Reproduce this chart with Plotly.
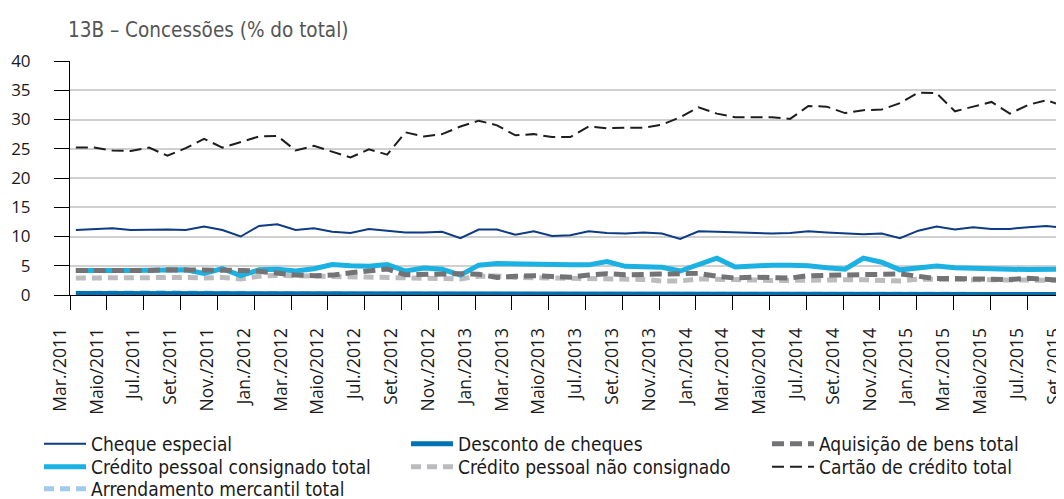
import plotly.graph_objects as go

tick_labels = ["Mar./2011", "Maio/2011", "Jul./2011", "Set./2011", "Nov./2011",
               "Jan./2012", "Mar./2012", "Maio/2012", "Jul./2012", "Set./2012", "Nov./2012",
               "Jan./2013", "Mar./2013", "Maio/2013", "Jul./2013", "Set./2013", "Nov./2013",
               "Jan./2014", "Mar./2014", "Maio/2014", "Jul./2014", "Set./2014", "Nov./2014",
               "Jan./2015", "Mar./2015", "Maio/2015", "Jul./2015", "Set./2015"]

cheque_especial = [11.1, 11.2, 11.4, 11.1, 11.2, 11.2, 11.1, 11.7, 11.1, 10.0,
                   11.8, 12.1, 11.1, 11.4, 10.8, 10.6, 11.3, 11.0, 10.7, 10.7,
                   10.8, 9.7, 11.2, 11.2, 10.3, 10.9, 10.1, 10.2, 10.9, 10.6,
                   10.5, 10.7, 10.5, 9.6, 10.9, 10.8, 10.7, 10.6, 10.5, 10.6,
                   10.9, 10.7, 10.5, 10.4, 10.5, 9.7, 11.0, 11.7, 11.2, 11.6,
                   11.3, 11.3, 11.6, 11.8, 11.5]

desconto_cheques = [0.25, 0.25, 0.3, 0.3, 0.3, 0.25, 0.25, 0.25, 0.25, 0.2,
                    0.2, 0.2, 0.2, 0.2, 0.2, 0.2, 0.2, 0.2, 0.2, 0.2,
                    0.2, 0.2, 0.2, 0.2, 0.2, 0.2, 0.2, 0.2, 0.2, 0.2,
                    0.2, 0.2, 0.2, 0.2, 0.2, 0.2, 0.2, 0.2, 0.2, 0.2,
                    0.2, 0.2, 0.2, 0.15, 0.15, 0.15, 0.15, 0.15, 0.15, 0.15,
                    0.15, 0.15, 0.1, 0.1, 0.1]

aquisicao_bens = [4.2, 4.2, 4.2, 4.05, 4.2, 4.3, 4.3, 4.2, 4.3, 4.2,
                  4.05, 3.65, 3.4, 3.3, 3.4, 3.8, 4.1, 4.45, 3.45, 3.55,
                  3.6, 3.65, 3.55, 3.0, 3.2, 3.3, 3.15, 3.05, 3.4, 3.65,
                  3.45, 3.5, 3.5, 3.65, 3.7, 3.2, 2.9, 3.05, 3.05, 2.9,
                  3.3, 3.35, 3.35, 3.4, 3.4, 3.6, 3.2, 2.8, 2.8, 2.75,
                  2.65, 2.65, 2.85, 2.7, 2.5]

consignado = [4.2, 4.1, 4.2, 4.2, 4.2, 4.3, 4.3, 3.7, 4.5, 3.3,
              4.3, 4.4, 4.1, 4.5, 5.2, 5.0, 4.9, 5.2, 4.1, 4.6,
              4.4, 3.4, 5.1, 5.4, 5.3, 5.4, 5.2, 5.15, 5.15, 5.7,
              4.9, 4.9, 4.75, 4.1, 5.2, 6.3, 4.8, 5.0, 5.1, 5.1,
              5.0, 4.65, 4.4, 6.3, 5.6, 4.3, 4.65, 4.95, 4.65, 4.5,
              4.45, 4.4, 4.35, 4.4, 4.4]

nao_consignado = [2.9, 2.95, 3.0, 3.05, 3.05, 3.0, 3.0, 2.9, 3.0, 2.75,
                  3.2, 3.35, 3.3, 3.2, 3.25, 3.1, 3.0, 3.1, 2.9, 3.0,
                  3.0, 2.75, 3.2, 3.25, 3.0, 2.95, 2.9, 2.8, 2.9, 2.75,
                  2.75, 2.65, 2.4, 2.4, 2.75, 2.65, 2.5, 2.6, 2.5, 2.5,
                  2.6, 2.6, 2.6, 2.6, 2.5, 2.4, 2.7, 2.7, 2.7, 2.7,
                  2.6, 2.6, 2.7, 2.6, 2.5]

cartao_credito = [25.2, 25.2, 24.7, 24.6, 25.2, 23.8, 25.1, 26.7, 25.2, 26.1,
                  27.1, 27.2, 24.7, 25.5, 24.5, 23.5, 24.9, 24.0, 27.8, 27.1,
                  27.5, 28.8, 29.8, 29.0, 27.3, 27.5, 27.0, 27.0, 28.8, 28.5,
                  28.6, 28.6, 29.1, 30.4, 32.1, 31.0, 30.4, 30.4, 30.4, 30.1,
                  32.3, 32.2, 31.1, 31.6, 31.7, 32.8, 34.6, 34.5, 31.4, 32.2,
                  33.0, 31.0, 32.5, 33.3, 32.2]

arrendamento = [0.3, 0.35, 0.45, 0.5, 0.45, 0.4, 0.35, 0.3, 0.3, 0.25,
                0.25, 0.2, 0.2, 0.2, 0.2, 0.15, 0.15, 0.15, 0.15, 0.15,
                0.15, 0.15, 0.15, 0.15, 0.15, 0.15, 0.15, 0.15, 0.15, 0.15,
                0.15, 0.15, 0.15, 0.15, 0.15, 0.15, 0.15, 0.15, 0.15, 0.15,
                0.1, 0.1, 0.1, 0.1, 0.1, 0.1, 0.1, 0.1, 0.1, 0.1,
                0.1, 0.1, 0.1, 0.1, 0.1]

x = list(range(len(cheque_especial)))

# name, values, color, width, dash, legend id, legend x (px), legend top (px)
series = [
    ("Cheque especial", cheque_especial, "#0d3b84", 2, "solid", "legend", 31, 417),
    ("Desconto de cheques", desconto_cheques, "#0071b3", 5, "solid", "legend2", 398, 417),
    ("Aquisição de bens total", aquisicao_bens, "#737376", 5, "12px,6px", "legend3", 759, 417),
    ("Crédito pessoal consignado total", consignado, "#1bb1e2", 5, "solid", "legend4", 31, 440),
    ("Crédito pessoal não consignado", nao_consignado, "#bcbcbf", 5, "10px,6px", "legend5", 398, 440),
    ("Cartão de crédito total", cartao_credito, "#1e1e1e", 2, "12px,6px", "legend6", 759, 440),
    ("Arrendamento mercantil total", arrendamento, "#a3caec", 5, "10px,6px", "legend7", 31, 462),
]

fig = go.Figure()
for name, vals, color, w, dash, leg, lx, ly in reversed(series):
    fig.add_trace(go.Scatter(
        x=x, y=vals, name=name, mode="lines",
        line=dict(color=color, width=w, dash=dash),
        legend=leg, showlegend=True,
    ))

n_ticks = len(tick_labels)
tickvals = [2 * k * 1.0049 - 0.311 for k in range(n_ticks)]

legend_font = dict(family="DejaVu Sans Condensed", size=19, color="#1a1a1a")
legends = {}
for name, vals, color, w, dash, leg, lx, ly in series:
    legends[leg] = dict(xref="container", yref="container", xanchor="left", yanchor="top",
                        x=lx / 1064, y=1 - ly / 499, font=legend_font,
                        bgcolor="rgba(0,0,0,0)", itemwidth=42, orientation="v")

fig.update_layout(
    width=1064, height=499,
    showlegend=True,
    margin=dict(l=62, r=3, t=53, b=212, autoexpand=False),
    paper_bgcolor="white", plot_bgcolor="white",
    title=dict(text="13B – Concessões (% do total)", xref="container", x=60 / 1064,
               xanchor="left", y=1 - 22 / 499, yanchor="middle",
               font=dict(family="DejaVu Sans Condensed", size=20.5, color="#555555")),
    xaxis=dict(range=[-0.32, 54.23], tickmode="array", tickvals=tickvals, ticktext=tick_labels,
               tickangle=-90, ticks="outside", ticklen=14, tickcolor="#000000", tickwidth=1,
               showline=True, linecolor="#000000", linewidth=1, showgrid=False, zeroline=False,
               ticklabelstandoff=11, ticklabelshift=-10, ticklabeloverflow="allow",
               tickfont=dict(family="Open Sans", size=17.5, color="#1a1a1a")),
    yaxis=dict(range=[0, 40], dtick=5, tick0=0, showgrid=True, gridcolor="#d0d0d0", gridwidth=1.5,
               showline=True, linecolor="#000000", linewidth=1, ticks="outside", ticklen=15,
               tickcolor="#000000", zeroline=False, ticklabelstandoff=20,
               tickfont=dict(family="Open Sans", size=17, color="#1a1a1a")),
    shapes=[dict(type="line", xref="paper", yref="paper", x0=1, x1=1, y0=0, y1=1,
                 line=dict(color="#d0d0d0", width=1.5))],
    **legends,
)

fig.write_html("out.html")
